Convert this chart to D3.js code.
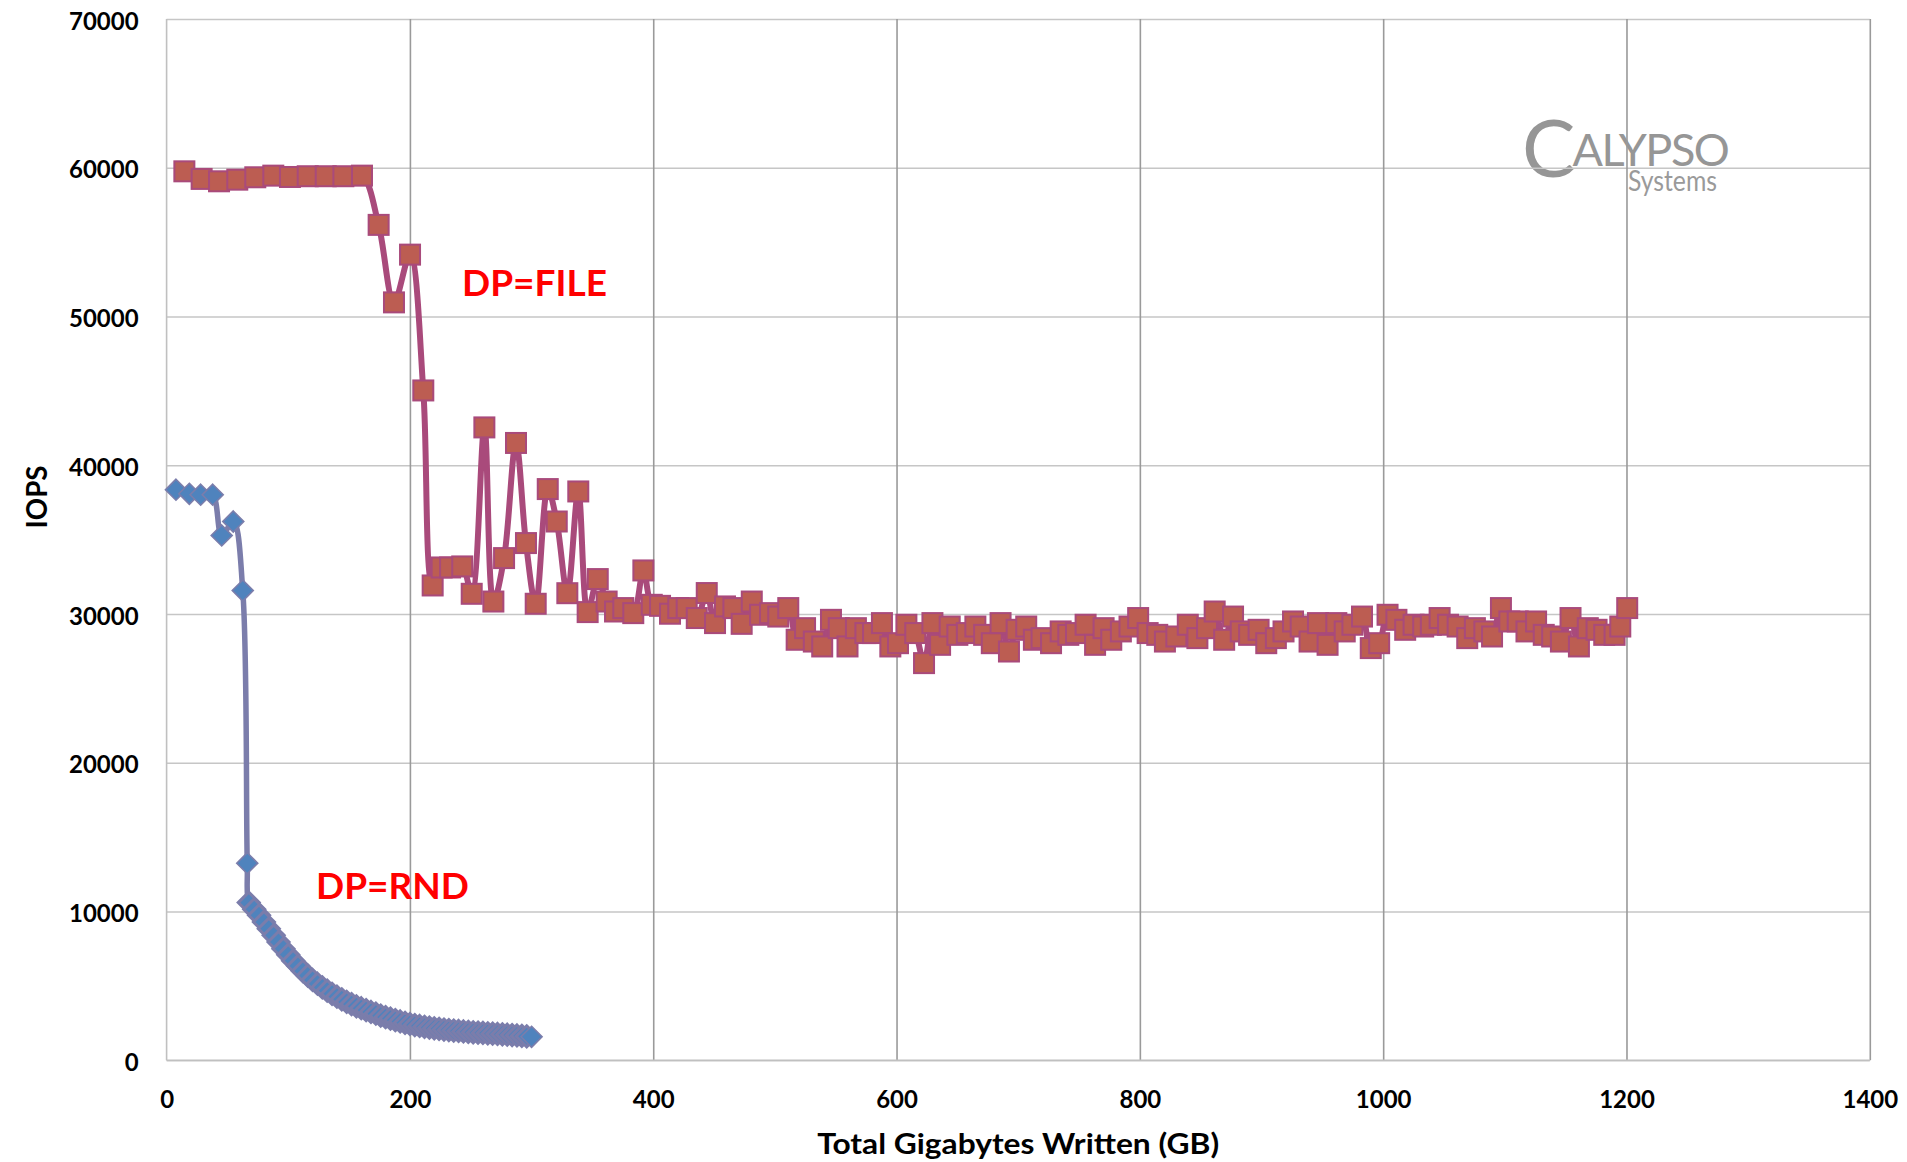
<!DOCTYPE html>
<html>
<head>
<meta charset="utf-8">
<script src="https://cdn.jsdelivr.net/npm/d3@7"></script>
<style>
  html, body { margin: 0; padding: 0; background: #fff; }
  svg { display: block; }
  text { font-family: Lato, "Open Sans", sans-serif; }
</style>
</head>
<body>
<svg id="chart" width="1907" height="1162"></svg>
<script>
// ---------- data ----------
const xTicks = [0, 200, 400, 600, 800, 1000, 1200, 1400];
const yTicks = [0, 10000, 20000, 30000, 40000, 50000, 60000, 70000];

const fileGB = [14.6, 28.8, 43.1, 58.1, 72.9, 87.7, 101.4, 116.0, 130.8, 145.3, 160.6, 174.3, 186.9, 200.1, 211.0,
  218.7, 226.1, 233.0, 243.0, 250.8, 261.2, 268.6, 277.4, 287.2, 295.4, 303.4, 313.3, 320.7, 329.4, 338.4, 346.1,
  354.4, 361.7, 368.6, 375.4, 383.6, 391.9, 398.8, 405.6, 413.8, 420.6, 427.5, 435.8, 444.0, 450.8, 459.0, 465.9,
  472.7, 481.0, 487.8, 496.0, 502.8, 511.0, 517.9, 524.8, 532.0, 538.9, 546.1, 552.5, 559.7, 566.6, 574.4, 580.7,
  588.0, 594.9, 601.2, 608.1, 615.4, 622.6, 629.5, 635.8, 643.7, 650.0, 657.8, 664.8, 672.0, 678.3, 685.5, 692.4,
  698.7, 706.6, 712.9, 719.2, 727.0, 734.9, 741.2, 747.5, 755.4, 763.2, 770.2, 776.5, 784.4, 791.5, 798.6, 806.4,
  814.3, 820.6, 830.0, 839.4, 847.3, 855.2, 861.5, 869.3, 876.6, 882.9, 889.8, 897.6, 903.9, 911.8, 918.1, 925.9,
  932.2, 939.5, 946.4, 954.3, 961.5, 968.4, 974.7, 982.6, 989.8, 996.7, 1003.6, 1010.9, 1018.1, 1025.0, 1032.9,
  1039.2, 1046.4, 1053.3, 1061.2, 1069.1, 1075.4, 1083.2, 1089.5, 1096.8, 1103.7, 1110.6, 1117.8, 1125.7, 1132.0,
  1138.9, 1146.1, 1154.0, 1160.9, 1168.2, 1175.4, 1181.7, 1190.2, 1194.9, 1200.6];
const fileIOPS = [59760, 59250, 59090, 59200, 59360, 59470, 59380, 59430, 59430, 59430, 59470, 56160, 50950, 54160, 45030,
  31920, 33130, 33130, 33200, 31360, 42545, 30840, 33760, 41500, 34770, 30690, 38400, 36220, 31400, 38240, 30130,
  32350, 30840, 30170, 30400, 30060, 32930, 30620, 30550, 30020, 30400, 30400, 29730, 31410, 29390, 30510, 30400,
  29340, 30840, 29950, 30060, 29830, 30400, 28270, 29050, 28150, 27820, 29610, 29050, 27820, 29050, 28720, 28720,
  29390, 27820, 28040, 29280, 28720, 26700, 29390, 27930, 29160, 28600, 28720, 29160, 28600, 28040, 29390, 27480,
  28940, 29160, 28270, 28380, 28040, 28830, 28600, 28720, 29280, 27930, 29050, 28270, 28830, 29160, 29730, 28720,
  28600, 28150, 28490, 29280, 28380, 29050, 30170, 28270, 29830, 28830, 28600, 28940, 28040, 28380, 28830, 29500,
  29160, 28150, 29390, 27930, 29390, 28830, 29280, 29830, 27710, 28040, 29950, 29610, 28940, 29280, 29160,
  29280, 29730, 29280, 29160, 28380, 29050, 28830, 28490, 30400, 29500, 29500, 28830, 29500, 28600,
  28490, 28150, 29730, 27820, 29050, 28940, 28600, 28600, 29160, 30400];

const rndGB = [7.7, 18.7, 28.0, 37.9, 45.3, 54.8, 62.6, 66.3, 67.5, 72, 76, 80, 84, 88, 92, 96, 100, 104, 108, 112,
  116, 120, 124, 128, 132, 136, 140, 144, 148, 152, 156, 160, 164, 168, 172, 176, 180, 184, 188, 192, 196, 200,
  204, 208, 212, 216, 220, 224, 228, 232, 236, 240, 244, 248, 252, 256, 260, 264, 268, 272, 276, 280, 284, 288,
  292, 296, 300];
const rndIOPS = [38355, 38085, 38020, 38020, 35280, 36220, 31580, 13250, 10600, 10150, 9750, 9300, 8850, 8400, 7950,
  7500, 7100, 6700, 6350, 6000, 5700, 5400, 5150, 4900, 4680, 4470, 4280, 4100, 3930, 3780, 3630, 3500, 3370,
  3250, 3140, 3000, 2900, 2800, 2700, 2610, 2520, 2440, 2370, 2310, 2250, 2200, 2150, 2110, 2070, 2030, 2000,
  1970, 1940, 1910, 1885, 1860, 1840, 1815, 1790, 1770, 1745, 1720, 1695, 1670, 1640, 1615, 1580];

const xTitle = "Total Gigabytes Written (GB)";
const yTitle = "IOPS";
const fileLabel = "DP=FILE";
const rndLabel = "DP=RND";

// ---------- layout ----------
const svg = d3.select("#chart");
const L = 166.6, R = 1869.8, T = 19, B = 1060.3;
const x = d3.scaleLinear().domain([0, 1400]).range([L, R]);
const y = d3.scaleLinear().domain([0, 70000]).range([B, T]);

// ---------- logo (behind grid) ----------
const logo = svg.append("g").attr("fill", "#969696").style("font-family", "'Open Sans', sans-serif");
const brand = logo.append("text").attr("x", 1522).attr("y", 177);
brand.append("tspan").attr("font-size", 80).text("C");
brand.append("tspan").attr("font-size", 45).attr("dy", -11).attr("dx", -3)
  .attr("letter-spacing", -1.5).text("ALYPSO");
brand.append("tspan").attr("x", 1628).attr("y", 191).attr("font-size", 29).attr("fill", "#9a9a9a")
  .attr("letter-spacing", 0).attr("textLength", 89).attr("lengthAdjust", "spacingAndGlyphs").text("Systems");

// ---------- gridlines ----------
const gridY = svg.append("g").attr("transform", `translate(${L},0)`)
  .call(d3.axisLeft(y).tickValues(yTicks).tickSize(-(R - L)).tickFormat(""));
gridY.select(".domain").remove();
gridY.selectAll("line").attr("stroke", "#c6c6c6").attr("stroke-width", 1.6);

const gridX = svg.append("g").attr("transform", `translate(0,${B})`)
  .call(d3.axisBottom(x).tickValues(xTicks.filter(d => d > 0)).tickSize(-(B - T)).tickFormat(""));
gridX.select(".domain").remove();
gridX.selectAll("line").attr("stroke", "#9a9a9a").attr("stroke-width", 1.6);

// axis lines
svg.append("line").attr("x1", L).attr("x2", L).attr("y1", T).attr("y2", B)
  .attr("stroke", "#c0c0c0").attr("stroke-width", 1.6);
svg.append("line").attr("x1", L).attr("x2", R).attr("y1", B).attr("y2", B)
  .attr("stroke", "#c0c0c0").attr("stroke-width", 1.6);

// ---------- tick labels ----------
const yAxis = svg.append("g").attr("transform", `translate(${L},0)`)
  .call(d3.axisLeft(y).tickValues(yTicks).tickSize(0).tickPadding(28).tickFormat(d3.format("d")));
yAxis.select(".domain").remove();
yAxis.selectAll("text").attr("font-size", 24).attr("font-weight", "bold").attr("fill", "#000")
  .attr("dy", "0.42em").style("font-family", "Lato, sans-serif");

const xAxis = svg.append("g").attr("transform", `translate(0,${B})`)
  .call(d3.axisBottom(x).tickValues(xTicks).tickSize(0).tickPadding(31).tickFormat(d3.format("d")));
xAxis.select(".domain").remove();
xAxis.selectAll("text").attr("font-size", 24).attr("font-weight", "bold").attr("fill", "#000")
  .style("font-family", "Lato, sans-serif");

// titles
svg.append("text").attr("x", (L + R) / 2).attr("y", 1154).attr("text-anchor", "middle")
  .attr("font-size", 28).attr("font-weight", "bold")
  .attr("textLength", 402).attr("lengthAdjust", "spacingAndGlyphs").text(xTitle);
svg.append("text").attr("transform", "translate(47,497) rotate(-90)").attr("text-anchor", "middle")
  .attr("font-size", 29).attr("font-weight", "bold")
  .attr("textLength", 63).attr("lengthAdjust", "spacingAndGlyphs").text(yTitle);

// ---------- series ----------
const fileData = fileGB.map((g, i) => [g, fileIOPS[i]]);
const rndData = rndGB.map((g, i) => [g, rndIOPS[i]]);
const line = d3.line().x(d => x(d[0])).y(d => y(d[1])).curve(d3.curveCatmullRom.alpha(0.5));

// RND
svg.append("path").datum(rndData).attr("d", line).attr("fill", "none")
  .attr("stroke", "#7b7dab").attr("stroke-width", 5.5).attr("stroke-linejoin", "round");
svg.append("g").selectAll("path").data(rndData).join("path")
  .attr("transform", d => `translate(${x(d[0])},${y(d[1])})`)
  .attr("d", "M0,-10.5L10.5,0L0,10.5L-10.5,0Z")
  .attr("fill", "#4f83bd").attr("stroke", "#7b7dab")
  .attr("stroke-width", (d, i) => d[0] > 67 && i < rndData.length - 1 ? 3 : 1.6);

// FILE
svg.append("path").datum(fileData).attr("d", line).attr("fill", "none")
  .attr("stroke", "#a94a7b").attr("stroke-width", 6).attr("stroke-linejoin", "round");
svg.append("g").selectAll("rect").data(fileData).join("rect")
  .attr("x", d => x(d[0]) - 10).attr("y", d => y(d[1]) - 10)
  .attr("width", 20).attr("height", 20)
  .attr("fill", "#bc5d52").attr("stroke", "#a94a7b").attr("stroke-width", 2);

// ---------- annotations ----------
svg.append("text").attr("x", 462).attr("y", 296).attr("font-size", 37).attr("font-weight", "bold")
  .attr("fill", "#ff0000").text(fileLabel);
svg.append("text").attr("x", 316).attr("y", 899).attr("font-size", 37).attr("font-weight", "bold")
  .attr("fill", "#ff0000").text(rndLabel);
</script>
</body>
</html>
